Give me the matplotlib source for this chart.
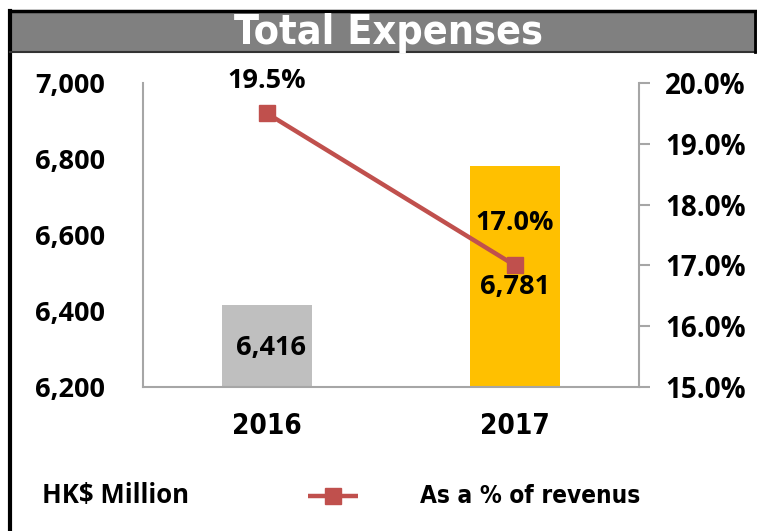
import matplotlib
matplotlib.use("Agg")
import matplotlib.pyplot as plt
from matplotlib.patches import Rectangle
from matplotlib.lines import Line2D
from matplotlib.ticker import FuncFormatter

years = ["2016", "2017"]
expenses = [6416, 6781]
pct_revenue = [19.5, 17.0]
bar_colors = ["#BFBFBF", "#FFC000"]
line_color = "#C0504D"

W, H = 757, 531
fig = plt.figure(figsize=(W / 100, H / 100), dpi=100)

def fx(px):
    return px / W

def fy(py):
    return 1 - py / H

cond = dict(family="DejaVu Sans", stretch="condensed", weight="bold")

# frame + title bar
fig.patches.append(Rectangle((fx(9), fy(52)), fx(760) - fx(9), fy(12) - fy(52),
                             transform=fig.transFigure, facecolor="#808080",
                             edgecolor="none", zorder=0))
fig.add_artist(Line2D([fx(10), fx(10)], [0, fy(11)], transform=fig.transFigure,
                      color="black", lw=3))
fig.add_artist(Line2D([fx(10), 1], [fy(11), fy(11)], transform=fig.transFigure,
                      color="black", lw=2.5))
fig.add_artist(Line2D([fx(10), 1], [fy(52), fy(52)], transform=fig.transFigure,
                      color="#333333", lw=1.5))
fig.add_artist(Line2D([fx(755), fx(755)], [fy(52), fy(11)], transform=fig.transFigure,
                      color="black", lw=2))
fig.text(fx(388), fy(33), "Total Expenses", color="white", fontsize=29.5,
         ha="center", va="center", **cond)

ax = fig.add_axes([fx(143), fy(387), fx(639) - fx(143), fy(83) - fy(387)])
x = range(len(years))
ax.bar(x, expenses, width=0.36, color=bar_colors, zorder=2)
ax.set_xlim(-0.5, 1.5)
ax.set_ylim(6200, 7000)
ax.set_yticks([6200, 6400, 6600, 6800, 7000])
ax.yaxis.set_major_formatter(FuncFormatter(lambda v, p: f"{v:,.0f}"))
ax.tick_params(axis="y", length=0, pad=27, labelsize=19.5)
ax.set_xticks(list(x))
ax.set_xticklabels(years)
ax.tick_params(axis="x", length=0, pad=18)
for lab in ax.get_yticklabels():
    lab.set_fontweight("bold")
    lab.set_family("Open Sans")
for lab in ax.get_xticklabels():
    lab.set_fontproperties(dict(size=20, **cond))
for s in ["top", "right"]:
    ax.spines[s].set_visible(False)
for s in ["left", "bottom"]:
    ax.spines[s].set_color("#A6A6A6")
    ax.spines[s].set_linewidth(1.5)

ax2 = ax.twinx()
ax2.plot(x, pct_revenue, color=line_color, lw=3.2, marker="s", markersize=12, zorder=3)
ax2.set_ylim(15, 20)
ax2.set_yticks([15, 16, 17, 18, 19, 20])
ax2.yaxis.set_major_formatter(FuncFormatter(lambda v, p: f"{v:.1f}%"))
ax2.tick_params(axis="y", length=8, width=1.5, color="#A6A6A6", pad=11, labelsize=20)
for lab in ax2.get_yticklabels():
    lab.set_fontweight("bold")
    lab.set_family("Open Sans")
for s in ["top", "left", "bottom"]:
    ax2.spines[s].set_visible(False)
ax2.spines["right"].set_color("#A6A6A6")
ax2.spines["right"].set_linewidth(1.5)

# data labels
for xi, v in zip(x, expenses):
    ax.annotate(f"{v:,}", (xi, v), xytext=(4 if xi == 0 else 0, -43 if xi == 0 else -121),
                textcoords="offset pixels", ha="center", va="center",
                fontsize=19.5, weight="bold", family="Open Sans")
for xi, v in zip(x, pct_revenue):
    ax2.annotate(f"{v:.1f}%", (xi, v), xytext=(0, 32 if xi == 0 else 42),
                 textcoords="offset pixels", ha="center", va="center",
                 fontsize=19.5, weight="bold", family="Open Sans")

# legend row
fig.text(fx(42), fy(496), "HK$ Million", fontsize=18.5, family="Open Sans",
         weight="bold", va="center")
fig.add_artist(Line2D([fx(308), fx(358)], [fy(496), fy(496)], transform=fig.transFigure,
                      color=line_color, lw=3.2, solid_capstyle="butt"))
fig.add_artist(Line2D([fx(333)], [fy(496)], transform=fig.transFigure,
                      color=line_color, marker="s", markersize=12, lw=0))
fig.text(fx(420), fy(496), "As a % of revenus", fontsize=17.5, va="center", **cond)

fig.savefig("out.png", dpi=100)
